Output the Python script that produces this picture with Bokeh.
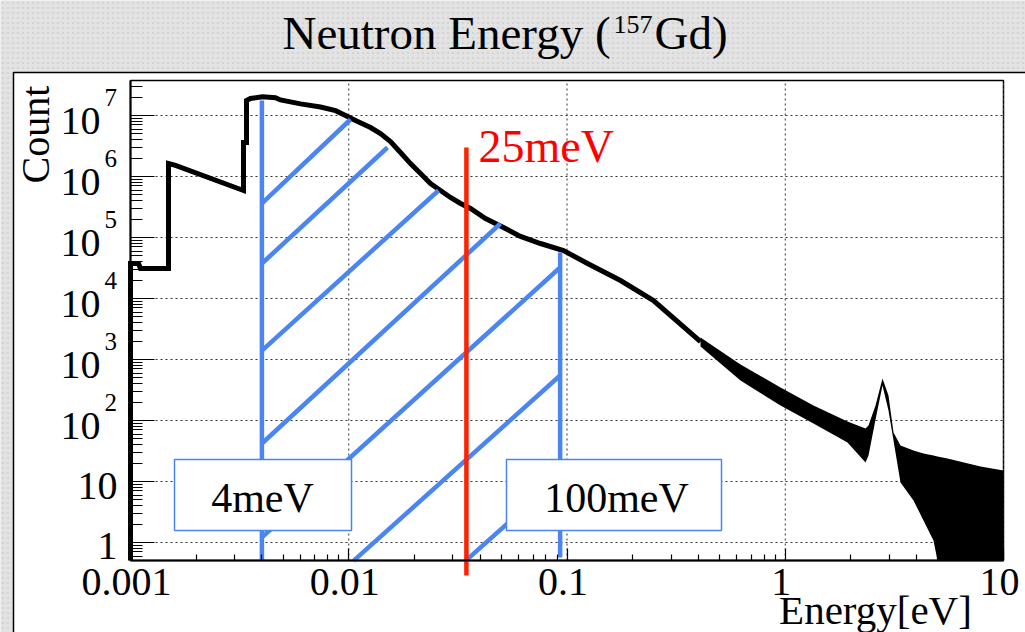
import numpy as np
from bokeh.plotting import figure
from bokeh.models import Range1d, FixedTicker, BoxAnnotation, Label, CustomJSTickFormatter
from bokeh.embed import file_html
from bokeh.resources import INLINE

# ---------------- data ----------------
# main histogram outline (energy in eV, counts; 0 = empty)
energy_ev = [0.001, 0.001, 0.001088, 0.001111, 0.001493, 0.001493, 0.001608, 0.003294,
             0.003294, 0.003401, 0.003401, 0.003546, 0.004025, 0.004616, 0.004867, 0.00601,
             0.007424, 0.008697, 0.009663, 0.010738, 0.012582, 0.01398, 0.015533, 0.017262,
             0.019181, 0.021319, 0.023693, 0.026325, 0.029254, 0.032509, 0.036126, 0.042326,
             0.051168, 0.061223, 0.075597, 0.096383, 0.124166, 0.175875, 0.24902, 0.40905]
counts = [0, 3.75e4, 3.75e4, 3.1e4, 3.1e4, 1.63e6, 1.52e6, 5.9e5,
          3.61e6, 3.61e6, 1.76e7, 1.9e7, 2.02e7, 1.95e7, 1.8e7, 1.55e7,
          1.38e7, 1.2e7, 1.0e7, 8.28e6, 6.36e6, 5.07e6, 3.75e6, 2.47e6,
          1.63e6, 1.12e6, 7.68e5, 5.9e5, 4.53e5, 3.61e5, 2.99e5, 2.05e5,
          1.46e5, 1.04e5, 7.97e4, 6.12e4, 3.75e4, 1.97e4, 9.27e3, 1.97e3]

# statistically noisy high-energy part: upper / lower envelope of the bins
band_energy = [0.40905, 0.62373, 0.95107, 1.3469, 1.9288, 2.3322, 2.4071, 2.5919, 2.7897,
               2.9718, 3.1333, 3.3738, 3.8693, 4.2993, 4.7781, 4.984, 5.5383, 7.8468, 10.0]
band_upper = [2296, 828, 348, 176, 96, 74, 82.8, 176, 488,
              257, 63.6, 38.9, 32.2, 28.8, 26.7, 25.7, 23.8, 17.6, 15.2]
band_lower = [1633, 453, 176, 89, 43.6, 20.5, 26.7, 104, 375,
              146, 47, 9.6, 4.9, 2.3, 1.08, 0, 0, 0, 0]

# 4 meV .. 100 meV window and thermal marker
window_lo_ev = 0.004
window_hi_ev = 0.093
window_lo_top = 1.76e7
window_hi_top = 5.68e4
window_hi_bottom = 0.567
marker_ev = 0.0346
marker_top = 2.99e6
marker_bottom = 0.288

# hatch strokes inside the window (start / end points, eV and counts)
hatch_x0 = [0.004, 0.004, 0.004, 0.004, 0.004, 0.010514, 0.034262]
hatch_y0 = [3.61e5, 3.75e4, 1.40e3, 42.0, 1.21, 0.5, 0.5]
hatch_x1 = [0.010186, 0.015047, 0.025777, 0.049577, 0.093, 0.093, 0.093]
hatch_y1 = [8.6e6, 2.99e6, 5.9e5, 1.696e5, 3.22e4, 547, 12.1]

x_tick_values = [0.001, 0.01, 0.1, 1, 10]
x_tick_labels = ["0.001", "0.01", "0.1", "1", "10"]
y_tick_exponents = [0, 1, 2, 3, 4, 5, 6, 7]

# ---------------- layout ----------------
W, H = 1025, 632
FL, FR, FT, FB = 130, 1003, 80, 560          # plot-area box in the picture
X_MIN, X_MAX = 0.001, 10.0
Y_MIN = 10 ** (7 - (FB - 115) / 61)
Y_MAX = 10 ** (7 + (115 - FT) / 61)
LX0, LX1 = np.log10(X_MIN), np.log10(X_MAX)
LY0, LY1 = np.log10(Y_MIN), np.log10(Y_MAX)


def sx(px):
    return 10 ** (LX0 + (px - FL) / (FR - FL) * (LX1 - LX0))


def sy(py):
    return 10 ** (LY0 + (FB - py) / (FB - FT) * (LY1 - LY0))


def px_of(x):
    return FL + (np.log10(x) - LX0) / (LX1 - LX0) * (FR - FL)


def py_of(y):
    return FB - (np.log10(y) - LY0) / (LY1 - LY0) * (FB - FT)


FONT = "Liberation Serif"
BLUE = "#4a85f2"
RED = "#ff2200"
SHIFT = 0.365   # label anchor correction (fraction of font size)

p = figure(width=W, height=H, x_axis_type="log", y_axis_type="log",
           x_range=Range1d(sx(0), sx(W)), y_range=Range1d(sy(H), sy(0)),
           output_backend="svg", toolbar_location=None, title=None,
           min_border=0, min_border_left=0, min_border_right=0,
           min_border_top=0, min_border_bottom=0,
           background_fill_color="#e3e3e3", border_fill_color="#e3e3e3",
           outline_line_color=None)
p.grid.visible = False


def text(px, py, txt, size, align="left", color="black", angle=0.0):
    """px, py: baseline anchor in picture pixels."""
    if angle:
        x, y = sx(px - SHIFT * size), sy(py)
    else:
        x, y = sx(px), sy(py - SHIFT * size)
    p.add_layout(Label(x=x, y=y, text=txt, text_font=FONT, text_font_size=f"{size}px",
                       text_align=align, text_baseline="alphabetic",
                       text_color=color, angle=angle))


# faint speckle of the slide background
p.add_layout(BoxAnnotation(left=sx(-5), right=sx(W + 5), top=sy(-5), bottom=sy(H + 5),
                           fill_alpha=0.0, line_alpha=0.0, hatch_pattern="dot",
                           hatch_color="#c4c4c4", hatch_scale=5, hatch_alpha=0.5,
                           level="image"))
# white pad behind the plot
p.add_layout(BoxAnnotation(left=sx(13), right=sx(W + 40), top=sy(72), bottom=sy(H + 40),
                           fill_color="white", fill_alpha=1.0, line_color="black",
                           line_alpha=1.0, line_width=1.5, level="image"))
# plot area frame
p.add_layout(BoxAnnotation(left=X_MIN, right=X_MAX, top=Y_MAX, bottom=Y_MIN,
                           fill_color="white", fill_alpha=1.0, line_color="black",
                           line_alpha=1.0, line_width=1.5, level="image"))

x_major = x_tick_values
x_minor = [m * 10.0 ** k for k in range(-3, 1) for m in range(2, 10)]
y_major = [10.0 ** k for k in y_tick_exponents]
y_minor = [m * 10.0 ** k for k in range(-1, 8) for m in range(2, 10)
           if Y_MIN < m * 10.0 ** k < Y_MAX]

blank = CustomJSTickFormatter(code="return ''")
xa, ya = p.xaxis[0], p.yaxis[0]
xa.ticker = FixedTicker(ticks=x_major, minor_ticks=x_minor)
ya.ticker = FixedTicker(ticks=y_major, minor_ticks=y_minor)
xa.fixed_location = Y_MIN
ya.fixed_location = X_MIN
xa.bounds = (X_MIN, X_MAX)
ya.bounds = (Y_MIN, Y_MAX)
for ax in (xa, ya):
    ax.formatter = blank
    ax.axis_line_color = "black"
    ax.axis_line_width = 2
    ax.major_tick_out = 0
    ax.minor_tick_out = 0
    ax.major_tick_line_color = "black"
    ax.minor_tick_line_color = "black"
    ax.major_tick_line_width = 1.2
    ax.minor_tick_line_width = 1.2
    ax.major_label_standoff = 0
xa.major_tick_in = 12
xa.minor_tick_in = 6
ya.major_tick_in = 24
ya.minor_tick_in = 12

# dotted grid at the decades, limited to the plot area
p.segment(x0=x_major, y0=[Y_MIN] * len(x_major), x1=x_major, y1=[Y_MAX] * len(x_major),
          line_color="#333333", line_dash="2 3", line_width=1)
p.segment(x0=[X_MIN] * len(y_major), y0=y_major, x1=[X_MAX] * len(y_major), y1=y_major,
          line_color="#333333", line_dash="2 3", line_width=1)

# histogram (empty bins sit on the lower edge of the plot)
p.line(energy_ev, np.maximum(counts, Y_MIN), line_color="black", line_width=5,
       line_join="miter")
p.varea(x=band_energy, y1=np.maximum(band_lower, Y_MIN), y2=band_upper, fill_color="black")

# window lines and hatching
p.segment(x0=[window_lo_ev, window_hi_ev], y0=[Y_MIN, window_hi_bottom],
          x1=[window_lo_ev, window_hi_ev], y1=[window_lo_top, window_hi_top],
          line_color=BLUE, line_width=4.5)
p.segment(x0=hatch_x0, y0=hatch_y0, x1=hatch_x1, y1=hatch_y1,
          line_color=BLUE, line_width=4.5)

# red thermal marker (extends below the axis)
p.segment(x0=[marker_ev], y0=[marker_bottom], x1=[marker_ev], y1=[marker_top],
          line_color=RED, line_width=4.5)

# label boxes
for l, r in ((sx(174), sx(351)), (sx(506), sx(721))):
    p.add_layout(BoxAnnotation(left=l, right=r, top=sy(459), bottom=sy(530),
                               fill_color="white", fill_alpha=1.0,
                               line_color=BLUE, line_alpha=1.0, line_width=1.5))
text(262, 513, "4meV", 42, "center")
text(616, 513, "100meV", 42, "center")
text(478, 163, "25meV", 46, "left", color="#ff0000")

# title
text(282, 50, "Neutron Energy (", 47)
text(613, 33, "157", 26)
text(654, 50, "Gd)", 47)

# axis titles
text(50, 134, "Count", 40, "center", angle=np.pi / 2)
text(875, 624, "Energy[eV]", 41, "center")

# x tick labels
for v, t in zip(x_tick_values, x_tick_labels):
    text(px_of(v) - 4, 596, t, 40, "center")

# y tick labels (ROOT style 10 + raised exponent)
for k in y_tick_exponents:
    gy = py_of(10.0 ** k)
    if k == 0:
        text(117, gy + 18, "1", 40, "right")
    elif k == 1:
        text(117, gy + 19, "10", 40, "right")
    else:
        text(100, gy + 20, "10", 40, "right")
        text(104, gy - 9, str(k), 25, "left")

open("out.html", "w").write(file_html(p, INLINE))
